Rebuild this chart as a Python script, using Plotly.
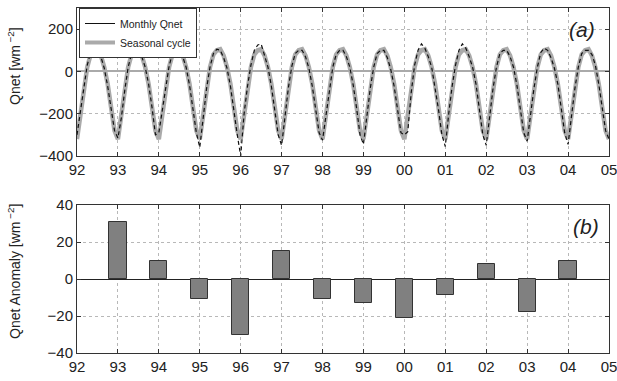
import numpy as np
import plotly.graph_objects as go

# ---------------- data ----------------
years = list(range(1992, 2005))
tick_years = list(range(1992, 2006))
tick_labels = ["92", "93", "94", "95", "96", "97", "98", "99", "00", "01", "02", "03", "04", "05"]

seasonal_cycle = [-320, -200, -80, 20, 80, 100, 105, 75, 20, -60, -170, -280]
seasonal_end = -320

q1992 = [-300, -190, -70, 30, 90, 115, 110, 70, 15, -70, -175, -280]
q1993 = [-315, -220, -90, 20, 85, 100, 100, 70, 20, -60, -170, -300]
q1994 = [-290, -195, -80, 25, 85, 100, 100, 70, 20, -65, -180, -290]
q1995 = [-360, -210, -80, 20, 85, 105, 100, 65, 15, -70, -190, -300]
q1996 = [-400, -200, -70, 30, 100, 125, 130, 75, 20, -70, -180, -300]
q1997 = [-350, -200, -75, 25, 85, 100, 100, 70, 15, -70, -180, -290]
q1998 = [-325, -205, -80, 20, 80, 100, 100, 70, 20, -65, -175, -300]
q1999 = [-345, -200, -80, 20, 85, 100, 100, 65, 10, -70, -175, -290]
q2000 = [-300, -285, -100, 30, 100, 130, 110, 70, 20, -70, -180, -300]
q2001 = [-355, -200, -70, 30, 100, 130, 110, 70, 20, -60, -180, -300]
q2002 = [-350, -200, -80, 20, 85, 100, 100, 70, 20, -65, -175, -290]
q2003 = [-330, -200, -80, 20, 90, 110, 100, 65, 15, -60, -170, -290]
q2004 = [-345, -200, -80, 20, 85, 100, 100, 80, 30, -60, -165, -280]
monthly_end = -320

anomaly_years = list(range(1993, 2005))
anomaly_values = [31, 10, -11, -30.5, 15, -11, -13, -21, -8.5, 8, -18, 9.5]

# ---------------- build series ----------------
monthly_rows = [q1992, q1993, q1994, q1995, q1996, q1997, q1998,
                q1999, q2000, q2001, q2002, q2003, q2004]
t = [y + m / 12 for y in years for m in range(12)] + [2005]
monthly = [v for row in monthly_rows for v in row] + [monthly_end]
seasonal = [v for _ in years for v in seasonal_cycle] + [seasonal_end]

FONT = "Liberation Sans, Arial, Helvetica, sans-serif"
fig = go.Figure()

fig.add_trace(go.Scatter(x=t, y=seasonal, mode="lines", name="Seasonal cycle",
                         line=dict(color="#aaaaaa", width=4.5), showlegend=False,
                         xaxis="x", yaxis="y"))
fig.add_trace(go.Scatter(x=t, y=monthly, mode="lines", name="Monthly Qnet",
                         line=dict(color="#111111", width=1.2, dash="4px,3px"),
                         showlegend=False, xaxis="x", yaxis="y"))
# legend entries
fig.add_trace(go.Scatter(x=[None], y=[None], mode="lines", name="Monthly Qnet",
                         line=dict(color="#111111", width=1), xaxis="x", yaxis="y"))
fig.add_trace(go.Scatter(x=[None], y=[None], mode="lines", name="Seasonal cycle",
                         line=dict(color="#aaaaaa", width=4), xaxis="x", yaxis="y"))

fig.add_trace(go.Bar(x=anomaly_years, y=anomaly_values, width=0.42,
                     marker=dict(color="#808080", line=dict(color="#333333", width=1)),
                     showlegend=False, xaxis="x2", yaxis="y2"))

xdom = [77 / 617, 609 / 617]
common_x = dict(range=[1992, 2005], tickvals=tick_years, ticktext=tick_labels,
                showline=True, linecolor="#333333", linewidth=1, mirror="ticks",
                ticks="inside", ticklen=4, tickcolor="#333333",
                showgrid=True, gridcolor="#b8b8b8", griddash="dot", gridwidth=1,
                zeroline=False, tickfont=dict(size=15, color="#222222", family=FONT),
                ticklabeloverflow="allow", automargin=False, domain=xdom)
common_y = dict(showline=True, linecolor="#333333", linewidth=1, mirror="ticks",
                ticks="inside", ticklen=4, tickcolor="#333333",
                showgrid=True, gridcolor="#b8b8b8", griddash="dot", gridwidth=1,
                ticklabeloverflow="allow", automargin=False,
                tickfont=dict(size=15, color="#222222", family=FONT))

fig.update_layout(
    width=617, height=381,
    margin=dict(l=0, r=0, t=0, b=0, autoexpand=False),
    paper_bgcolor="white", plot_bgcolor="white",
    font=dict(family=FONT, color="#222222"),
    xaxis=dict(**common_x, anchor="y"),
    yaxis=dict(**common_y, range=[-400, 300], tickvals=[-400, -200, 0, 200],
               ticktext=["−400", "−200", "0", "200"],
               zeroline=True, zerolinecolor="#aaaaaa", zerolinewidth=2,
               domain=[1 - 156 / 381, 1 - 8 / 381], anchor="x"),
    xaxis2=dict(**common_x, anchor="y2"),
    yaxis2=dict(**common_y, range=[-40, 40], tickvals=[-40, -20, 0, 20, 40],
                ticktext=["−40", "−20", "0", "20", "40"],
                zeroline=True, zerolinecolor="#222222", zerolinewidth=1,
                domain=[1 - 353 / 381, 1 - 205 / 381], anchor="x2"),
    legend=dict(x=79 / 617, y=1 - 8 / 381, xanchor="left", yanchor="top",
                bgcolor="white", bordercolor="#333333", borderwidth=1,
                font=dict(size=10.5, family=FONT, color="#222222"),
                tracegroupgap=0, itemwidth=30),
    bargap=0,
)

fig.add_annotation(text="Qnet [wm<sup> −2</sup>]", textangle=-90, xref="paper", yref="paper",
                   x=14 / 617, y=1 - 66 / 381, xanchor="center", yanchor="middle",
                   showarrow=False, font=dict(size=14, family=FONT, color="#222222"))
fig.add_annotation(text="Qnet Anomaly [wm<sup> −2</sup>]", textangle=-90, xref="paper", yref="paper",
                   x=14 / 617, y=1 - 272 / 381, xanchor="center", yanchor="middle",
                   showarrow=False, font=dict(size=14, family=FONT, color="#222222"))
fig.add_annotation(text="<i>(a)</i>", xref="paper", yref="paper",
                   x=582 / 617, y=1 - 30 / 381, xanchor="center", yanchor="middle",
                   showarrow=False, font=dict(size=21, family=FONT, color="#222222"))
fig.add_annotation(text="<i>(b)</i>", xref="paper", yref="paper",
                   x=586 / 617, y=1 - 226 / 381, xanchor="center", yanchor="middle",
                   showarrow=False, font=dict(size=21, family=FONT, color="#222222"))

fig.write_html("out.html")
